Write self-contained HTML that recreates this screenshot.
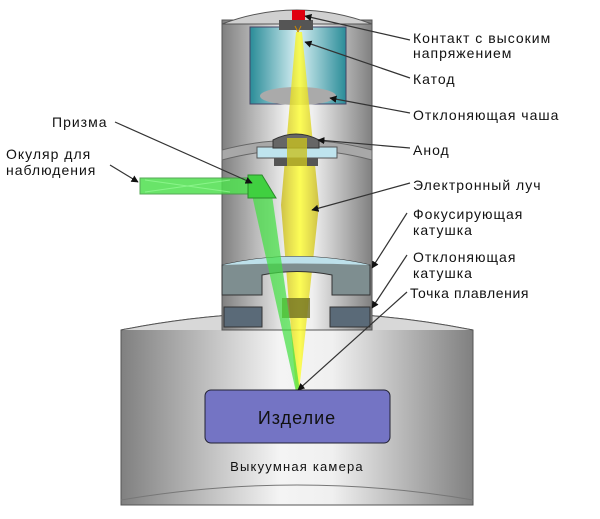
<!DOCTYPE html>
<html><head><meta charset="utf-8"><style>
html,body{margin:0;padding:0;background:#fff;}
svg text{font-family:"Liberation Sans","DejaVu Sans",sans-serif;}
</style></head><body>
<svg width="600" height="514" viewBox="0 0 600 514" xmlns="http://www.w3.org/2000/svg">
<defs>
<linearGradient id="cyl" x1="0" x2="1" y1="0" y2="0">
<stop offset="0" stop-color="#808080"/><stop offset="0.45" stop-color="#f4f4f4"/><stop offset="0.6" stop-color="#f0f0f0"/><stop offset="1" stop-color="#808080"/>
</linearGradient>
<linearGradient id="teal" x1="0" x2="1">
<stop offset="0" stop-color="#2a8c98"/><stop offset="0.5" stop-color="#d8f0f4"/><stop offset="1" stop-color="#2a8c98"/>
</linearGradient>
<linearGradient id="beam" x1="0" x2="1">
<stop offset="0" stop-color="#c8b820"/><stop offset="0.5" stop-color="#ffff30"/><stop offset="1" stop-color="#c8b820"/>
</linearGradient>
<marker id="ah" viewBox="0 0 10 10" refX="9" refY="5" markerWidth="6" markerHeight="6" orient="auto"><path d="M0,0 L10,5 L0,10z" fill="#111"/></marker>
</defs>
<path d="M121,330 Q297,295 473,330 L473,505 L121,505 Z" fill="url(#cyl)" stroke="#555"/>
<path d="M121,330 Q297,295 473,330" fill="#d8d8d8" stroke="#555"/>
<path d="M121,500 Q297,470 473,500" fill="none" stroke="#777"/>
<rect x="222" y="20" width="150" height="310" fill="url(#cyl)" stroke="#555"/>
<path d="M222,24 Q297,-4 372,24 Z" fill="#d0d0d0" stroke="#555"/>
<path d="M222,150 Q297,130 372,150 L372,160 Q297,140 222,160Z" fill="#a8a8a8" stroke="#666"/>
<rect x="250" y="27" width="96" height="77" fill="url(#teal)" stroke="#446"/>
<ellipse cx="298" cy="96" rx="38" ry="9" fill="#aaa"/>
<rect x="279" y="20" width="34" height="10" fill="#555"/>
<rect x="292" y="10" width="13" height="10" fill="#e00010"/>
<path d="M296,32 L302,32 L319,205 L299,392 L296,392 L281,205 Z" fill="url(#beam)" opacity="0.8"/>
<path d="M298,32 L295,26 M298,32 L301,26" stroke="#c80" />
<rect x="257" y="147" width="80" height="11" fill="#bfe4ee" stroke="#555"/>
<path d="M273,140 Q296,128 319,140 L319,148 L273,148 Z" fill="#666" stroke="#333"/>
<rect x="274" y="158" width="44" height="8" fill="#555"/>
<rect x="287" y="138" width="20" height="28" fill="#c8c020" opacity="0.8"/>
<path d="M222,265 Q297,248 370,265 L370,295 L332,295 L332,275 Q297,268 262,275 L262,295 L222,295 Z" fill="#7e8e90" stroke="#333"/>
<path d="M222,265 Q297,248 370,265 Q297,262 222,265Z" fill="#bde0ea"/>
<rect x="282" y="298" width="28" height="20" fill="#707020" opacity="0.8"/>
<rect x="224" y="307" width="38" height="20" fill="#5a6a78" stroke="#333"/>
<rect x="330" y="307" width="40" height="20" fill="#5a6a78" stroke="#333"/>
<path d="M252,195 L272,195 L300,392 L296,392 Z" fill="#40e040" opacity="0.7"/>
<rect x="140" y="178" width="108" height="16" fill="#50e050" opacity="0.85" stroke="#3a9a3a"/>
<path d="M145,180 L230,192 M145,192 L230,180" stroke="#a0ffa0" opacity="0.6"/>
<path d="M248,175 L262,175 L276,198 L248,198 Z" fill="#40d040" stroke="#2a8a2a"/>
<rect x="205" y="390" width="185" height="53" rx="6" fill="#7474c4" stroke="#223"/>
<text x="297" y="424" font-size="18" letter-spacing="1" text-anchor="middle" fill="#111">Изделие</text>
<text x="297" y="471" font-size="13" letter-spacing="1.2" text-anchor="middle" fill="#111">Выкуумная камера</text>
<g stroke="#333" stroke-width="1.2" fill="none" marker-end="url(#ah)">
<path d="M410,40 L305,16"/>
<path d="M410,78 L305,42"/>
<path d="M410,113 L330,98"/>
<path d="M410,148 L318,140"/>
<path d="M410,183 L312,210"/>
<path d="M407,213 L372,268"/>
<path d="M407,255 L372,308"/>
<path d="M407,292 L298,390"/>
<path d="M115,122 L252,183"/>
<path d="M110,165 L138,182"/>
</g>
<g font-size="14" letter-spacing="1" fill="#111">
<text x="413" y="43">Контакт с высоким</text>
<text x="413" y="58">напряжением</text>
<text x="413" y="84">Катод</text>
<text x="413" y="120">Отклоняющая чаша</text>
<text x="413" y="155">Анод</text>
<text x="413" y="190">Электронный луч</text>
<text x="413" y="219">Фокусирующая</text>
<text x="413" y="235">катушка</text>
<text x="413" y="262">Отклоняющая</text>
<text x="413" y="278">катушка</text>
<text x="410" y="298" letter-spacing="0.6">Точка плавления</text>
<text x="52" y="127">Призма</text>
<text x="6" y="159">Окуляр для</text>
<text x="6" y="175">наблюдения</text>
</g>
</svg>
</body></html>
